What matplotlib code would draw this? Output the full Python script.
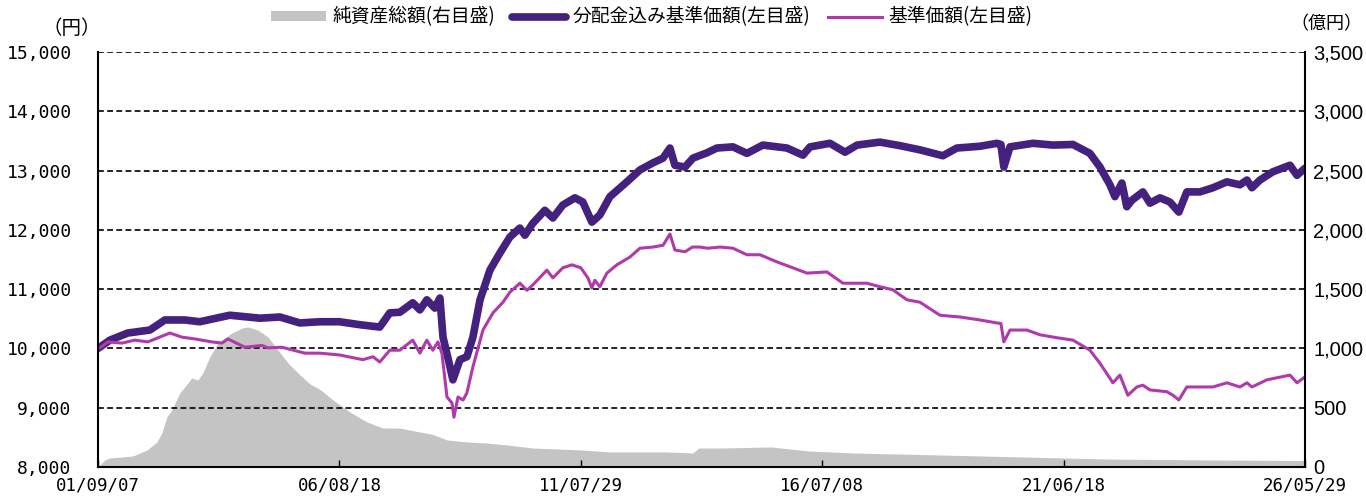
#!/usr/bin/env python3

import pandas as pd
import matplotlib
matplotlib.use('Agg')
from matplotlib import pyplot as plt
from matplotlib.patches import Patch
import matplotlib.dates as mdates

plt.rcParams['font.family'] = ['Noto Sans CJK JP', 'DejaVu Sans']

# 分配金込み基準価額 (円)
nav_dates = [
    "2001-09-07", "2001-12-05", "2002-04-18", "2002-09-30", "2003-01-20", "2003-06-18",
    "2003-10-08", "2004-05-20", "2005-01-01", "2005-05-30", "2005-10-26", "2006-03-25",
    "2006-08-18", "2007-01-18", "2007-06-16", "2007-08-30", "2007-11-13", "2008-02-18",
    "2008-04-11", "2008-06-02", "2008-08-01", "2008-09-08", "2008-10-01", "2008-11-07",
    "2008-12-14", "2009-02-05", "2009-03-29", "2009-05-13", "2009-07-05", "2009-09-17",
    "2009-12-01", "2010-02-14", "2010-04-29", "2010-06-06", "2010-08-04", "2010-11-02",
    "2011-01-01", "2011-03-17", "2011-06-15", "2011-08-13", "2011-10-20", "2011-12-18",
    "2012-03-03", "2012-07-08", "2012-10-13", "2013-01-19", "2013-04-04", "2013-05-26",
    "2013-07-02", "2013-09-16", "2013-11-14", "2014-02-27", "2014-05-12", "2014-09-09",
    "2014-12-23", "2015-04-21", "2015-10-18", "2016-02-15", "2016-04-08", "2016-09-04",
    "2016-12-26", "2017-03-26", "2017-09-13", "2018-02-10", "2018-07-09", "2018-12-28",
    "2019-04-11", "2019-10-01", "2020-02-05", "2020-03-06", "2020-03-28", "2020-05-13",
    "2020-11-01", "2021-03-31", "2021-08-27", "2022-01-01", "2022-03-17", "2022-05-31",
    "2022-07-07", "2022-08-28", "2022-10-04", "2022-11-11", "2023-02-01", "2023-03-26",
    "2023-06-09", "2023-08-22", "2023-10-28", "2023-12-27", "2024-04-03", "2024-07-09",
    "2024-10-22", "2025-01-27", "2025-03-21", "2025-04-27", "2025-06-26", "2025-10-01",
    "2026-02-06", "2026-03-30", "2026-05-29",
]
nav_values = [
    10000, 10140, 10260, 10310, 10480, 10480,
    10450, 10560, 10510, 10530, 10430, 10450,
    10450, 10400, 10360, 10600, 10610, 10770,
    10650, 10820, 10680, 10850, 10190, 9840,
    9470, 9810, 9860, 10190, 10820, 11320,
    11610, 11880, 12030, 11910, 12110, 12330,
    12200, 12420, 12540, 12470, 12130, 12250,
    12560, 12810, 13010, 13130, 13210, 13380,
    13090, 13060, 13210, 13300, 13380, 13400,
    13290, 13430, 13380, 13260, 13400, 13460,
    13310, 13430, 13480, 13420, 13350, 13250,
    13380, 13410, 13460, 13440, 13060, 13400,
    13460, 13430, 13440, 13290, 13060, 12760,
    12560, 12790, 12390, 12500, 12640, 12450,
    12540, 12470, 12300, 12640, 12640, 12710,
    12810, 12760, 12840, 12710, 12840, 12980,
    13090, 12920, 13040,
]

# 基準価額 (円)
base_dates = [
    "2001-09-07", "2001-09-21", "2001-11-20", "2002-03-05", "2002-06-10", "2002-09-15",
    "2003-02-27", "2003-05-28", "2003-09-02", "2004-01-07", "2004-03-22", "2004-05-06",
    "2004-09-10", "2005-01-15", "2005-03-01", "2005-06-14", "2005-12-03", "2006-03-25",
    "2006-08-18", "2007-02-10", "2007-04-26", "2007-06-16", "2007-08-30", "2007-11-13",
    "2008-02-18", "2008-04-11", "2008-06-02", "2008-07-17", "2008-08-24", "2008-09-23",
    "2008-10-31", "2008-12-07", "2008-12-22", "2009-01-21", "2009-02-28", "2009-03-29",
    "2009-05-13", "2009-07-27", "2009-10-10", "2009-12-24", "2010-02-14", "2010-04-29",
    "2010-06-21", "2010-08-04", "2010-11-17", "2011-01-01", "2011-03-17", "2011-05-23",
    "2011-07-29", "2011-09-20", "2011-10-20", "2011-11-11", "2011-12-18", "2012-02-09",
    "2012-04-24", "2012-07-30", "2012-10-13", "2013-01-19", "2013-04-04", "2013-05-26",
    "2013-07-02", "2013-09-16", "2013-11-10", "2014-01-05", "2014-03-06", "2014-06-04",
    "2014-09-09", "2014-12-23", "2015-03-30", "2015-08-04", "2015-12-02", "2016-03-16",
    "2016-08-12", "2016-12-10", "2017-06-08", "2017-09-13", "2017-12-18", "2018-04-03",
    "2018-07-09", "2018-12-06", "2019-05-05", "2019-10-01", "2020-02-05", "2020-03-06",
    "2020-03-28", "2020-05-13", "2020-09-17", "2020-12-23", "2021-04-30", "2021-08-27",
    "2022-01-01", "2022-03-17", "2022-06-22", "2022-08-13", "2022-10-12", "2022-12-18",
    "2023-02-01", "2023-03-26", "2023-07-31", "2023-09-14", "2023-10-28", "2023-12-27",
    "2024-04-03", "2024-07-09", "2024-10-22", "2025-01-27", "2025-03-21", "2025-04-27",
    "2025-08-17", "2026-02-06", "2026-03-30", "2026-05-29",
]
base_values = [
    10000, 10010, 10110, 10090, 10140, 10110,
    10260, 10190, 10160, 10110, 10090, 10160,
    10020, 10050, 10010, 10020, 9920, 9920,
    9890, 9810, 9860, 9770, 9970, 9970,
    10140, 9920, 10140, 9970, 10110, 9920,
    9180, 9080, 8840, 9180, 9130, 9250,
    9690, 10310, 10600, 10780, 10950, 11100,
    10980, 11070, 11320, 11190, 11360, 11410,
    11360, 11190, 11020, 11150, 11040, 11270,
    11410, 11540, 11690, 11710, 11740, 11930,
    11660, 11630, 11710, 11710, 11690, 11710,
    11690, 11580, 11580, 11460, 11360, 11270,
    11290, 11100, 11100, 11040, 10990, 10820,
    10780, 10560, 10530, 10480, 10430, 10420,
    10110, 10310, 10310, 10230, 10180, 10140,
    9970, 9750, 9420, 9550, 9210, 9350,
    9380, 9300, 9270, 9210, 9130, 9350,
    9350, 9350, 9420, 9350, 9420, 9350,
    9470, 9550, 9420, 9520,
]

# 純資産総額 (億円)
aum_dates = [
    "2001-09-07", "2001-10-29", "2001-12-05", "2002-05-26", "2002-09-08", "2002-11-22",
    "2002-12-29", "2003-02-04", "2003-03-13", "2003-05-12", "2003-06-18", "2003-08-10",
    "2003-09-24", "2003-10-31", "2003-12-22", "2004-02-21", "2004-06-05", "2004-08-19",
    "2004-10-03", "2004-12-17", "2005-03-01", "2005-05-15", "2005-07-29", "2005-10-12",
    "2006-01-10", "2006-03-25", "2006-07-01", "2006-11-04", "2007-03-11", "2007-07-09",
    "2007-11-13", "2008-03-20", "2008-07-17", "2008-10-31", "2009-03-29", "2009-08-26",
    "2010-01-22", "2010-08-04", "2011-08-13", "2012-03-03", "2013-04-26", "2013-11-14",
    "2013-12-28", "2014-06-11", "2015-06-20", "2016-04-01", "2017-03-03", "2018-12-20",
    "2020-09-02", "2022-05-16", "2024-08-15", "2026-05-29",
]
aum_values = [
    0, 60, 76, 93, 143, 211,
    287, 422, 481, 624, 675, 751,
    734, 793, 928, 1046, 1130, 1172,
    1181, 1155, 1096, 987, 877, 793,
    700, 655, 565, 464, 380, 329,
    328, 300, 275, 228, 211, 202,
    186, 160, 143, 127, 127, 118,
    160, 160, 169, 135, 118, 101,
    84, 67, 59, 55,
]

left_ticks = [8000, 9000, 10000, 11000, 12000, 13000, 14000, 15000]
right_ticks = [0, 500, 1000, 1500, 2000, 2500, 3000, 3500]
x_ticks = ["2001-09-07", "2006-08-18", "2011-07-29", "2016-07-08", "2021-06-18", "2026-05-29"]

labels = ["純資産総額(右目盛)", "分配金込み基準価額(左目盛)", "基準価額(左目盛)"]

nav_color = "#44217f"
base_color = "#b03aaa"
aum_color = "#c4c4c4"

fig = plt.figure(figsize=(13.66, 4.99), dpi=100)
ax = fig.add_axes([98 / 1366, 32 / 499, 1207 / 1366, 415 / 499])
ax2 = ax.twinx()

ax2.fill_between(pd.to_datetime(aum_dates), aum_values, 0, color=aum_color, lw=0)
ax2.set_ylim(0, 3500)
ax2.set_yticks(right_ticks, ["{:,}".format(v) for v in right_ticks],
               fontfamily="Liberation Sans", fontsize=14.5)
ax2.tick_params(axis="y", length=0, pad=6)
for s in ax2.spines.values():
    s.set_visible(False)

ax.set_zorder(ax2.get_zorder() + 1)
ax.patch.set_visible(False)

nav_line, = ax.plot(pd.to_datetime(nav_dates), nav_values, color=nav_color, lw=5.5,
                    solid_joinstyle="round", solid_capstyle="round")
base_line, = ax.plot(pd.to_datetime(base_dates), base_values, color=base_color, lw=2.2,
                     solid_joinstyle="round")

ax.set_ylim(8000, 15000)
ax.set_xlim(pd.Timestamp("2001-09-07"), pd.Timestamp("2026-05-29"))
ax.set_yticks(left_ticks, ["{:,}".format(v) for v in left_ticks],
              fontfamily="DejaVu Sans Mono", fontsize=13)
ax.tick_params(axis="y", length=0, pad=19)

xt = pd.to_datetime(x_ticks)
ax.set_xticks(xt)
ax.xaxis.set_major_formatter(mdates.DateFormatter("%y/%m/%d"))
for lbl in ax.get_xticklabels():
    lbl.set_fontfamily("DejaVu Sans Mono")
    lbl.set_fontsize(12.5)
ax.tick_params(axis="x", direction="in", length=5, width=1, pad=7)

ax.yaxis.grid(True, linestyle=(0, (3.5, 2)), color="black", lw=1.2)
ax.spines["top"].set_visible(False)
for side in ["left", "right", "bottom"]:
    ax.spines[side].set_linewidth(1.5)
    ax.spines[side].set_color("black")

fig.text(72 / 1366, 1 - 28 / 499, "（円）", ha="center", va="center", fontsize=14)
fig.text(1326 / 1366, 1 - 24 / 499, "（億円）", ha="center", va="center", fontsize=13)

handles = [Patch(facecolor=aum_color, edgecolor="none"), nav_line, base_line]
fig.legend(handles, labels, loc="center", bbox_to_anchor=(652 / 1366, 1 - 17 / 499),
           ncol=3, frameon=False, fontsize=13.5, handlelength=2.9, handletextpad=0.35,
           columnspacing=0.9, handleheight=0.4, borderaxespad=0, borderpad=0)

fig.savefig("out.png", dpi=100)
